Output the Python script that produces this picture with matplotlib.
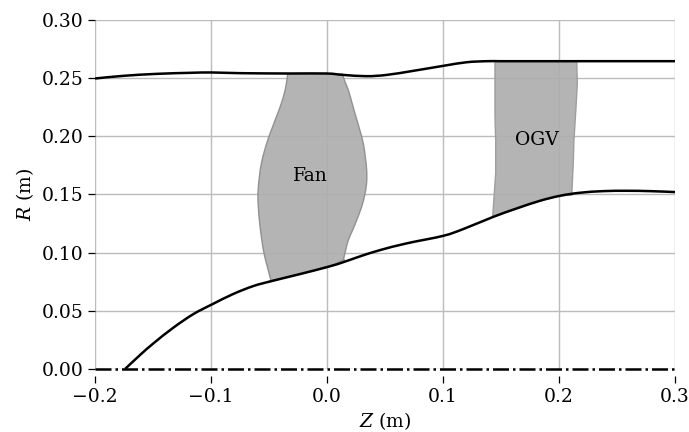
#!/usr/bin/env python3

import matplotlib
matplotlib.use("Agg")
import matplotlib.pyplot as plt
from matplotlib.patches import PathPatch
from matplotlib.path import Path

# duct walls (z, r in metres)
hub_z = [-0.1741, -0.1612, -0.1497, -0.1325, -0.1152, -0.0994, -0.0808, -0.0635, -0.0477,
         -0.0233, 0.0011, 0.014, 0.0284, 0.0457, 0.0687, 0.1003, 0.1175, 0.1434, 0.1635,
         0.1836, 0.2009, 0.2181, 0.2382, 0.2584, 0.2784, 0.3]
hub_r = [0.0, 0.012, 0.022, 0.0355, 0.0472, 0.0554, 0.0645, 0.0713, 0.0756,
         0.0816, 0.0879, 0.0918, 0.0968, 0.1022, 0.108, 0.1145, 0.1203, 0.1308, 0.138,
         0.1446, 0.1489, 0.1515, 0.1529, 0.1532, 0.1529, 0.1521]
casing_z = [-0.2, -0.1756, -0.1468, -0.118, -0.0994, -0.075, -0.0319, -0.0003, 0.014,
            0.0342, 0.0515, 0.0744, 0.1003, 0.1204, 0.1377, 0.1491, 0.17, 0.2, 0.25, 0.3]
casing_r = [0.2497, 0.252, 0.2537, 0.2546, 0.2549, 0.2543, 0.254, 0.254, 0.2528,
            0.2517, 0.2528, 0.2563, 0.2606, 0.2637, 0.2646, 0.2646, 0.2646, 0.2646, 0.2646, 0.2646]

# blade outlines, the corners on the hub are listed twice to keep them sharp
fan_z = [-0.0339, -0.035, -0.0372, -0.0401, -0.0436, -0.0471, -0.0506, -0.0537, -0.0563,
         -0.0583, -0.0595, -0.0592, -0.0583, -0.0566, -0.0543, -0.0514, -0.0483, -0.0483,
         -0.0233, 0.0011, 0.0141, 0.0141, 0.0161, 0.0184, 0.0221, 0.0256, 0.0299, 0.0328, 0.0342,
         0.0342, 0.033, 0.0313, 0.0279, 0.0241, 0.0213, 0.0184, 0.0155, 0.0135, 0.0125]
fan_r = [0.254, 0.2454, 0.2354, 0.2262, 0.2168, 0.2076, 0.1982, 0.1881, 0.1781,
         0.1652, 0.1509, 0.1395, 0.128, 0.1137, 0.0994, 0.0879, 0.0759, 0.0759,
         0.0816, 0.0879, 0.0936, 0.0936, 0.1022, 0.1108, 0.1194, 0.128, 0.1395, 0.1509, 0.1609,
         0.171, 0.1824, 0.1939, 0.2068, 0.2197, 0.2297, 0.2397, 0.2469, 0.2526, 0.254]
ogv_z = [0.1448, 0.1448, 0.1454, 0.1454, 0.144, 0.1428, 0.1635, 0.1836, 0.2009, 0.211,
         0.2123, 0.2129, 0.2147, 0.2158, 0.2153]
ogv_r = [0.2646, 0.2168, 0.1967, 0.168, 0.148, 0.1308, 0.138, 0.1446, 0.1489, 0.1495,
         0.1767, 0.1967, 0.2254, 0.2458, 0.2646]

axis_z = [-0.2, 0.3]
axis_r = [0.0, 0.0]

xticks = [-0.2, -0.1, 0.0, 0.1, 0.2, 0.3]
yticks = [0.0, 0.05, 0.1, 0.15, 0.2, 0.25, 0.3]


def smoothPath(xs, ys):
    # bezier segments through the read points, so the wall does not look kinked
    verts = [(xs[0], ys[0])]
    codes = [Path.MOVETO]
    n = len(xs)
    for i in range(n - 1):
        a, b = max(i - 1, 0), min(i + 2, n - 1)
        verts.append((xs[i] + (xs[i + 1] - xs[a]) / 6, ys[i] + (ys[i + 1] - ys[a]) / 6))
        verts.append((xs[i + 1] - (xs[b] - xs[i]) / 6, ys[i + 1] - (ys[b] - ys[i]) / 6))
        verts.append((xs[i + 1], ys[i + 1]))
        codes += [Path.CURVE4] * 3
    return Path(verts, codes)


plt.rcParams["font.family"] = "DejaVu Serif"
plt.rcParams["mathtext.fontset"] = "dejavuserif"
plt.rcParams["font.size"] = 13.5

fig = plt.figure(figsize=(6.89, 4.32), dpi=100)
ax = fig.add_axes([95 / 689, 63 / 432, 580 / 689, 349 / 432])

ax.add_patch(PathPatch(smoothPath(fan_z, fan_r), facecolor="#afafaf", edgecolor="#8c8c8c",
                       lw=1.0, alpha=0.93, zorder=2))
ax.fill(ogv_z, ogv_r, facecolor="#afafaf", edgecolor="#9a9a9a", lw=1.0, alpha=0.93, zorder=2)

for zs, rs in [(hub_z, hub_r), (casing_z, casing_r)]:
    ax.add_patch(PathPatch(smoothPath(zs, rs), facecolor="none", edgecolor="k", lw=1.8, zorder=3))
ax.plot(axis_z, axis_r, color="k", lw=1.8, ls="-.", clip_on=False, zorder=3)

ax.text(-0.014, 0.1655, "Fan", ha="center", va="center")
ax.text(0.1805, 0.1965, "OGV", ha="center", va="center")

ax.set_xlim(-0.2, 0.3)
ax.set_ylim(0.0, 0.3)
ax.set_xticks(xticks)
ax.set_yticks(yticks)
ax.set_yticklabels(["%.2f" % v for v in yticks])
ax.set_xlabel(r"$Z$ (m)", labelpad=3.5)
ax.set_ylabel(r"$R$ (m)", labelpad=4)
ax.grid(True, color="#bcbcbc", lw=1.0)
ax.set_axisbelow(True)

for s in ["top", "right", "left", "bottom"]:
    ax.spines[s].set_visible(False)
ax.spines["bottom"].set_position(("outward", 5))
ax.tick_params(axis="both", length=5, width=0.9, color="k")

fig.savefig("out.png", dpi=100)
